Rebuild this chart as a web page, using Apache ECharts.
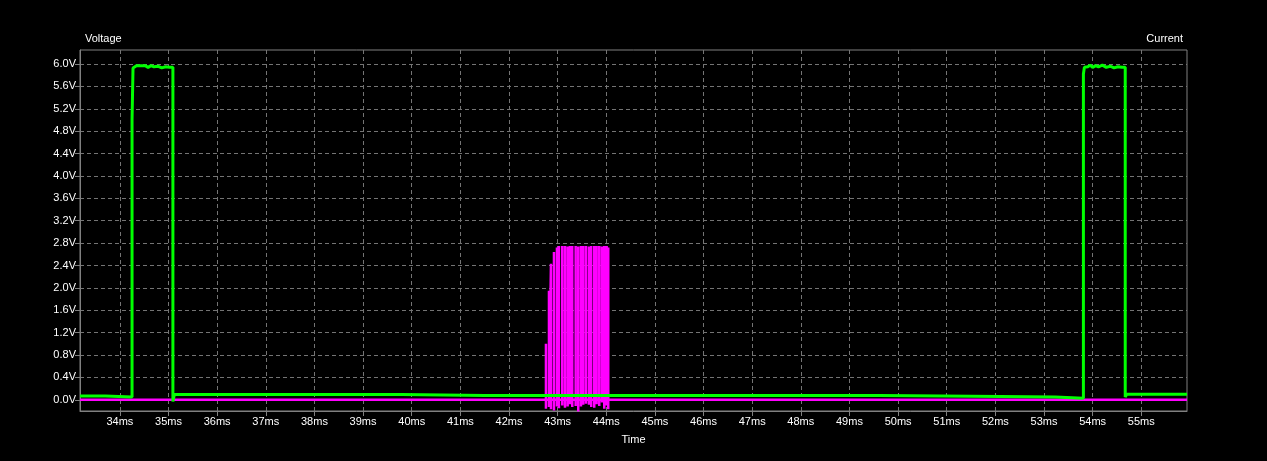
<!DOCTYPE html>
<html><head><meta charset="utf-8">
<script src="https://cdn.jsdelivr.net/npm/echarts@6/dist/echarts.min.js"></script>
<style>html,body{margin:0;padding:0;background:#000;}#chart{width:1267px;height:461px;}</style>
</head><body><div id="chart"></div>
<script>
// Tick labels
const xTickValues = [34,35,36,37,38,39,40,41,42,43,44,45,46,47,48,49,50,51,52,53,54,55];
const yTickValues = [0,0.4,0.8,1.2,1.6,2.0,2.4,2.8,3.2,3.6,4.0,4.4,4.8,5.2,5.6,6.0];

// Voltage trace (green), time in ms, value in V
const voltageTime = [
  33.18, 33.70, 33.72, 34.25, 34.25, 34.27, 34.27,
  34.30, 34.34, 34.38, 34.42, 34.46, 34.52, 34.58, 34.64, 34.70, 34.78, 34.86, 34.94, 35.02, 35.09,
  35.09, 35.12, 35.12,
  35.60, 35.61, 36.30, 36.31, 36.90, 36.91, 37.60, 37.61, 38.40, 38.41, 39.10, 39.11, 39.79,
  39.79, 41.50, 41.51, 44.60, 44.61, 46.20, 46.21, 47.90, 47.91, 49.60, 49.61, 50.90, 50.91, 52.10,
  52.10, 53.23, 53.23, 53.81, 53.81, 53.83, 53.83,
  53.86, 53.90, 53.95, 54.00, 54.06, 54.12, 54.20, 54.28, 54.36, 54.44, 54.52, 54.60, 54.67,
  54.67, 54.70, 54.70, 55.94
];
const voltageValue = [
  0.07, 0.07, 0.05, 0.05, 5.00, 5.00, 5.93,
  5.96, 5.97, 5.94, 5.97, 5.95, 5.97, 5.94, 5.97, 5.95, 5.96, 5.93, 5.95, 5.94, 5.94,
  -0.03, -0.03, 0.095,
  0.095, 0.075, 0.095, 0.075, 0.095, 0.075, 0.095, 0.075, 0.095, 0.075, 0.095, 0.075, 0.095,
  0.075, 0.075, 0.060, 0.075, 0.060, 0.075, 0.060, 0.075, 0.060, 0.075, 0.060, 0.070, 0.055, 0.060,
  0.050, 0.050, 0.030, 0.030, 5.82, 5.82, 5.94,
  5.97, 5.95, 5.98, 5.94, 5.97, 5.95, 5.98, 5.94, 5.96, 5.93, 5.95, 5.94, 5.94,
  0.05, 0.05, 0.10, 0.10
];

// Current trace (magenta): baseline plus burst spikes
const currentBaseTime = [33.18, 55.94];
const currentBaseValue = [0, 0];
const burstTime = [42.760, 42.822, 42.863, 42.925, 42.986, 43.027, 43.095, 43.151, 43.206, 43.253,
  43.301, 43.371, 43.424, 43.480, 43.527, 43.583, 43.644, 43.691, 43.753, 43.802,
  43.856, 43.911, 43.959, 44.008, 44.041];
const burstPeak = [1.00, 1.95, 2.43, 2.64, 2.72, 2.75, 2.75, 2.75, 2.74, 2.75,
  2.75, 2.75, 2.74, 2.75, 2.75, 2.75, 2.74, 2.75, 2.75, 2.75,
  2.75, 2.74, 2.75, 2.75, 2.72];
const burstLow = [-0.16, -0.13, -0.17, -0.19, -0.12, -0.15, -0.10, -0.14, -0.12, -0.08,
  -0.13, -0.11, -0.21, -0.12, -0.09, -0.07, -0.09, -0.13, -0.14, -0.08,
  -0.11, -0.05, -0.16, -0.10, -0.17];

const voltageData = voltageTime.map((t, i) => [t, voltageValue[i]]);
const currentData = [[currentBaseTime[0], currentBaseValue[0]]];
burstTime.forEach((t, i) => {
  currentData.push([t, 0], [t, burstPeak[i]], [t, burstLow[i]], [t, 0]);
});
currentData.push([currentBaseTime[1], currentBaseValue[1]]);

const font = "'Liberation Sans', Arial, sans-serif";
const gray = '#808080';
const gridGray = '#747474';
const chart = echarts.init(document.getElementById('chart'), null, {renderer: 'canvas'});
chart.setOption({
  backgroundColor: '#000000',
  animation: false,
  textStyle: {fontFamily: font},
  grid: {left: 80, right: 80, top: 50, bottom: 50, show: true, borderColor: gray, borderWidth: 1, backgroundColor: '#000'},
  xAxis: {
    type: 'value', min: 33.18, max: 55.94,
    name: 'Time', nameLocation: 'middle', nameGap: 29,
    nameTextStyle: {color: '#ffffff', fontSize: 11, fontFamily: font, verticalAlign: 'middle'},
    axisLine: {show: true, onZero: false, lineStyle: {color: gray}},
    axisTick: {show: true, customValues: xTickValues, length: 5, lineStyle: {color: gray}},
    axisLabel: {customValues: xTickValues, formatter: v => v + 'ms', color: '#ffffff', fontSize: 11, fontFamily: font, margin: 5},
    splitLine: {show: true, lineStyle: {color: gridGray, type: [4, 3]}}
  },
  yAxis: [{
    type: 'value', min: -0.2, max: 6.25, position: 'left',
    name: 'Voltage', nameLocation: 'end', nameGap: 11,
    nameTextStyle: {color: '#ffffff', fontSize: 11, fontFamily: font, align: 'left', verticalAlign: 'middle', padding: [0, 0, 0, 5]},
    axisLine: {show: true, onZero: false, lineStyle: {color: gray}},
    axisTick: {show: true, customValues: yTickValues, length: 5, lineStyle: {color: gray}},
    axisLabel: {customValues: yTickValues, formatter: v => v.toFixed(1) + 'V', color: '#ffffff', fontSize: 11, fontFamily: font, margin: 4},
    splitLine: {show: true, lineStyle: {color: gridGray, type: [4, 3]}}
  }, {
    type: 'value', min: -0.2, max: 6.25, position: 'right',
    name: 'Current', nameLocation: 'end', nameGap: 11,
    nameTextStyle: {color: '#ffffff', fontSize: 11, fontFamily: font, align: 'right', verticalAlign: 'middle', padding: [0, 4, 0, 0]},
    axisLine: {show: false}, axisTick: {show: false}, axisLabel: {show: false}, splitLine: {show: false}
  }],
  series: [{
    name: 'Current', type: 'line', yAxisIndex: 1, data: currentData, symbol: 'none',
    lineStyle: {color: '#ff00ff', width: 2.5}, itemStyle: {color: '#ff00ff'}
  }, {
    name: 'Voltage', type: 'line', yAxisIndex: 0, data: voltageData, symbol: 'none',
    lineStyle: {color: '#00ff00', width: 3}, itemStyle: {color: '#00ff00'}
  }]
});
</script></body></html>
